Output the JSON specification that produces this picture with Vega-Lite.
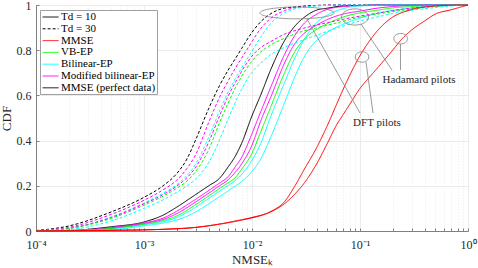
{
"$schema": "https://vega.github.io/schema/vega-lite/v6.json",
"width": 432, "height": 226,
"autosize": {"type": "none"},
"padding": {"left": 36, "top": 5, "right": 10, "bottom": 37},
"background": "white",
"config": {"view": {"stroke": null}, "font": "Liberation Serif"},
"layer": [
{
"data": {"values": [
{"series":"MMSE (perfect data)","pilot":"none","nmse":0.0001,"cdf":0},
{"series":"MMSE (perfect data)","pilot":"none","nmse":0.0002,"cdf":0.002},
{"series":"MMSE (perfect data)","pilot":"none","nmse":0.0005,"cdf":0.019},
{"series":"MMSE (perfect data)","pilot":"none","nmse":0.001,"cdf":0.040},
{"series":"MMSE (perfect data)","pilot":"none","nmse":0.0015,"cdf":0.070},
{"series":"MMSE (perfect data)","pilot":"none","nmse":0.002,"cdf":0.105},
{"series":"MMSE (perfect data)","pilot":"none","nmse":0.003,"cdf":0.161},
{"series":"MMSE (perfect data)","pilot":"none","nmse":0.004,"cdf":0.201},
{"series":"MMSE (perfect data)","pilot":"none","nmse":0.005,"cdf":0.233},
{"series":"MMSE (perfect data)","pilot":"none","nmse":0.006,"cdf":0.283},
{"series":"MMSE (perfect data)","pilot":"none","nmse":0.007,"cdf":0.331},
{"series":"MMSE (perfect data)","pilot":"none","nmse":0.008,"cdf":0.387},
{"series":"MMSE (perfect data)","pilot":"none","nmse":0.01,"cdf":0.510},
{"series":"MMSE (perfect data)","pilot":"none","nmse":0.012,"cdf":0.600},
{"series":"MMSE (perfect data)","pilot":"none","nmse":0.015,"cdf":0.717},
{"series":"MMSE (perfect data)","pilot":"none","nmse":0.02,"cdf":0.842},
{"series":"MMSE (perfect data)","pilot":"none","nmse":0.025,"cdf":0.907},
{"series":"MMSE (perfect data)","pilot":"none","nmse":0.03,"cdf":0.943},
{"series":"MMSE (perfect data)","pilot":"none","nmse":0.04,"cdf":0.978},
{"series":"MMSE (perfect data)","pilot":"none","nmse":0.05,"cdf":0.986},
{"series":"MMSE (perfect data)","pilot":"none","nmse":0.07,"cdf":0.996},
{"series":"MMSE (perfect data)","pilot":"none","nmse":0.1,"cdf":0.998},
{"series":"MMSE (perfect data)","pilot":"none","nmse":0.15,"cdf":1.0},
{"series":"MMSE (perfect data)","pilot":"none","nmse":1,"cdf":1.0},

{"series":"Modified bilinear-EP","pilot":"DFT","nmse":0.0001,"cdf":0},
{"series":"Modified bilinear-EP","pilot":"DFT","nmse":0.0002,"cdf":0.001},
{"series":"Modified bilinear-EP","pilot":"DFT","nmse":0.0005,"cdf":0.015},
{"series":"Modified bilinear-EP","pilot":"DFT","nmse":0.001,"cdf":0.036},
{"series":"Modified bilinear-EP","pilot":"DFT","nmse":0.0015,"cdf":0.057},
{"series":"Modified bilinear-EP","pilot":"DFT","nmse":0.002,"cdf":0.087},
{"series":"Modified bilinear-EP","pilot":"DFT","nmse":0.003,"cdf":0.140},
{"series":"Modified bilinear-EP","pilot":"DFT","nmse":0.004,"cdf":0.180},
{"series":"Modified bilinear-EP","pilot":"DFT","nmse":0.005,"cdf":0.212},
{"series":"Modified bilinear-EP","pilot":"DFT","nmse":0.006,"cdf":0.240},
{"series":"Modified bilinear-EP","pilot":"DFT","nmse":0.007,"cdf":0.284},
{"series":"Modified bilinear-EP","pilot":"DFT","nmse":0.008,"cdf":0.325},
{"series":"Modified bilinear-EP","pilot":"DFT","nmse":0.01,"cdf":0.431},
{"series":"Modified bilinear-EP","pilot":"DFT","nmse":0.012,"cdf":0.526},
{"series":"Modified bilinear-EP","pilot":"DFT","nmse":0.015,"cdf":0.639},
{"series":"Modified bilinear-EP","pilot":"DFT","nmse":0.02,"cdf":0.781},
{"series":"Modified bilinear-EP","pilot":"DFT","nmse":0.025,"cdf":0.866},
{"series":"Modified bilinear-EP","pilot":"DFT","nmse":0.03,"cdf":0.916},
{"series":"Modified bilinear-EP","pilot":"DFT","nmse":0.04,"cdf":0.960},
{"series":"Modified bilinear-EP","pilot":"DFT","nmse":0.05,"cdf":0.981},
{"series":"Modified bilinear-EP","pilot":"DFT","nmse":0.07,"cdf":0.993},
{"series":"Modified bilinear-EP","pilot":"DFT","nmse":0.1,"cdf":0.997},
{"series":"Modified bilinear-EP","pilot":"DFT","nmse":0.15,"cdf":1.0},
{"series":"Modified bilinear-EP","pilot":"DFT","nmse":1,"cdf":1.0},

{"series":"Bilinear-EP","pilot":"DFT","nmse":0.0001,"cdf":0},
{"series":"Bilinear-EP","pilot":"DFT","nmse":0.0005,"cdf":0.010},
{"series":"Bilinear-EP","pilot":"DFT","nmse":0.001,"cdf":0.028},
{"series":"Bilinear-EP","pilot":"DFT","nmse":0.0015,"cdf":0.041},
{"series":"Bilinear-EP","pilot":"DFT","nmse":0.002,"cdf":0.059},
{"series":"Bilinear-EP","pilot":"DFT","nmse":0.003,"cdf":0.105},
{"series":"Bilinear-EP","pilot":"DFT","nmse":0.004,"cdf":0.145},
{"series":"Bilinear-EP","pilot":"DFT","nmse":0.005,"cdf":0.176},
{"series":"Bilinear-EP","pilot":"DFT","nmse":0.006,"cdf":0.201},
{"series":"Bilinear-EP","pilot":"DFT","nmse":0.007,"cdf":0.223},
{"series":"Bilinear-EP","pilot":"DFT","nmse":0.008,"cdf":0.249},
{"series":"Bilinear-EP","pilot":"DFT","nmse":0.01,"cdf":0.313},
{"series":"Bilinear-EP","pilot":"DFT","nmse":0.012,"cdf":0.386},
{"series":"Bilinear-EP","pilot":"DFT","nmse":0.015,"cdf":0.510},
{"series":"Bilinear-EP","pilot":"DFT","nmse":0.02,"cdf":0.656},
{"series":"Bilinear-EP","pilot":"DFT","nmse":0.025,"cdf":0.767},
{"series":"Bilinear-EP","pilot":"DFT","nmse":0.03,"cdf":0.842},
{"series":"Bilinear-EP","pilot":"DFT","nmse":0.04,"cdf":0.924},
{"series":"Bilinear-EP","pilot":"DFT","nmse":0.05,"cdf":0.956},
{"series":"Bilinear-EP","pilot":"DFT","nmse":0.07,"cdf":0.984},
{"series":"Bilinear-EP","pilot":"DFT","nmse":0.1,"cdf":0.996},
{"series":"Bilinear-EP","pilot":"DFT","nmse":0.15,"cdf":0.998},
{"series":"Bilinear-EP","pilot":"DFT","nmse":0.2,"cdf":1.0},
{"series":"Bilinear-EP","pilot":"DFT","nmse":1,"cdf":1.0},

{"series":"Modified bilinear-EP","pilot":"Hadamard","nmse":0.0001,"cdf":0},
{"series":"Modified bilinear-EP","pilot":"Hadamard","nmse":0.0002,"cdf":0.001},
{"series":"Modified bilinear-EP","pilot":"Hadamard","nmse":0.0005,"cdf":0.0135},
{"series":"Modified bilinear-EP","pilot":"Hadamard","nmse":0.001,"cdf":0.033},
{"series":"Modified bilinear-EP","pilot":"Hadamard","nmse":0.0015,"cdf":0.051},
{"series":"Modified bilinear-EP","pilot":"Hadamard","nmse":0.002,"cdf":0.076},
{"series":"Modified bilinear-EP","pilot":"Hadamard","nmse":0.003,"cdf":0.128},
{"series":"Modified bilinear-EP","pilot":"Hadamard","nmse":0.004,"cdf":0.168},
{"series":"Modified bilinear-EP","pilot":"Hadamard","nmse":0.005,"cdf":0.200},
{"series":"Modified bilinear-EP","pilot":"Hadamard","nmse":0.006,"cdf":0.226},
{"series":"Modified bilinear-EP","pilot":"Hadamard","nmse":0.007,"cdf":0.260},
{"series":"Modified bilinear-EP","pilot":"Hadamard","nmse":0.008,"cdf":0.296},
{"series":"Modified bilinear-EP","pilot":"Hadamard","nmse":0.01,"cdf":0.380},
{"series":"Modified bilinear-EP","pilot":"Hadamard","nmse":0.012,"cdf":0.485},
{"series":"Modified bilinear-EP","pilot":"Hadamard","nmse":0.015,"cdf":0.595},
{"series":"Modified bilinear-EP","pilot":"Hadamard","nmse":0.02,"cdf":0.743},
{"series":"Modified bilinear-EP","pilot":"Hadamard","nmse":0.025,"cdf":0.830},
{"series":"Modified bilinear-EP","pilot":"Hadamard","nmse":0.03,"cdf":0.872},
{"series":"Modified bilinear-EP","pilot":"Hadamard","nmse":0.04,"cdf":0.912},
{"series":"Modified bilinear-EP","pilot":"Hadamard","nmse":0.05,"cdf":0.936},
{"series":"Modified bilinear-EP","pilot":"Hadamard","nmse":0.07,"cdf":0.960},
{"series":"Modified bilinear-EP","pilot":"Hadamard","nmse":0.1,"cdf":0.973},
{"series":"Modified bilinear-EP","pilot":"Hadamard","nmse":0.15,"cdf":0.987},
{"series":"Modified bilinear-EP","pilot":"Hadamard","nmse":0.2,"cdf":0.993},
{"series":"Modified bilinear-EP","pilot":"Hadamard","nmse":0.3,"cdf":0.998},
{"series":"Modified bilinear-EP","pilot":"Hadamard","nmse":0.5,"cdf":1.0},
{"series":"Modified bilinear-EP","pilot":"Hadamard","nmse":1,"cdf":1.0},

{"series":"VB-EP","pilot":"Hadamard","nmse":0.0001,"cdf":0},
{"series":"VB-EP","pilot":"Hadamard","nmse":0.0002,"cdf":0.0005},
{"series":"VB-EP","pilot":"Hadamard","nmse":0.0005,"cdf":0.012},
{"series":"VB-EP","pilot":"Hadamard","nmse":0.001,"cdf":0.030},
{"series":"VB-EP","pilot":"Hadamard","nmse":0.0015,"cdf":0.046},
{"series":"VB-EP","pilot":"Hadamard","nmse":0.002,"cdf":0.066},
{"series":"VB-EP","pilot":"Hadamard","nmse":0.003,"cdf":0.116},
{"series":"VB-EP","pilot":"Hadamard","nmse":0.004,"cdf":0.156},
{"series":"VB-EP","pilot":"Hadamard","nmse":0.005,"cdf":0.188},
{"series":"VB-EP","pilot":"Hadamard","nmse":0.006,"cdf":0.213},
{"series":"VB-EP","pilot":"Hadamard","nmse":0.007,"cdf":0.236},
{"series":"VB-EP","pilot":"Hadamard","nmse":0.008,"cdf":0.273},
{"series":"VB-EP","pilot":"Hadamard","nmse":0.01,"cdf":0.344},
{"series":"VB-EP","pilot":"Hadamard","nmse":0.012,"cdf":0.437},
{"series":"VB-EP","pilot":"Hadamard","nmse":0.015,"cdf":0.552},
{"series":"VB-EP","pilot":"Hadamard","nmse":0.02,"cdf":0.700},
{"series":"VB-EP","pilot":"Hadamard","nmse":0.025,"cdf":0.795},
{"series":"VB-EP","pilot":"Hadamard","nmse":0.03,"cdf":0.845},
{"series":"VB-EP","pilot":"Hadamard","nmse":0.04,"cdf":0.893},
{"series":"VB-EP","pilot":"Hadamard","nmse":0.05,"cdf":0.918},
{"series":"VB-EP","pilot":"Hadamard","nmse":0.07,"cdf":0.947},
{"series":"VB-EP","pilot":"Hadamard","nmse":0.1,"cdf":0.965},
{"series":"VB-EP","pilot":"Hadamard","nmse":0.15,"cdf":0.978},
{"series":"VB-EP","pilot":"Hadamard","nmse":0.2,"cdf":0.987},
{"series":"VB-EP","pilot":"Hadamard","nmse":0.3,"cdf":0.993},
{"series":"VB-EP","pilot":"Hadamard","nmse":0.5,"cdf":0.998},
{"series":"VB-EP","pilot":"Hadamard","nmse":1,"cdf":1.0},

{"series":"Bilinear-EP","pilot":"Hadamard","nmse":0.0001,"cdf":0},
{"series":"Bilinear-EP","pilot":"Hadamard","nmse":0.0005,"cdf":0.006},
{"series":"Bilinear-EP","pilot":"Hadamard","nmse":0.001,"cdf":0.023},
{"series":"Bilinear-EP","pilot":"Hadamard","nmse":0.0015,"cdf":0.035},
{"series":"Bilinear-EP","pilot":"Hadamard","nmse":0.002,"cdf":0.048},
{"series":"Bilinear-EP","pilot":"Hadamard","nmse":0.003,"cdf":0.084},
{"series":"Bilinear-EP","pilot":"Hadamard","nmse":0.004,"cdf":0.121},
{"series":"Bilinear-EP","pilot":"Hadamard","nmse":0.005,"cdf":0.152},
{"series":"Bilinear-EP","pilot":"Hadamard","nmse":0.006,"cdf":0.177},
{"series":"Bilinear-EP","pilot":"Hadamard","nmse":0.007,"cdf":0.199},
{"series":"Bilinear-EP","pilot":"Hadamard","nmse":0.008,"cdf":0.218},
{"series":"Bilinear-EP","pilot":"Hadamard","nmse":0.01,"cdf":0.264},
{"series":"Bilinear-EP","pilot":"Hadamard","nmse":0.012,"cdf":0.317},
{"series":"Bilinear-EP","pilot":"Hadamard","nmse":0.015,"cdf":0.418},
{"series":"Bilinear-EP","pilot":"Hadamard","nmse":0.02,"cdf":0.567},
{"series":"Bilinear-EP","pilot":"Hadamard","nmse":0.025,"cdf":0.684},
{"series":"Bilinear-EP","pilot":"Hadamard","nmse":0.03,"cdf":0.765},
{"series":"Bilinear-EP","pilot":"Hadamard","nmse":0.04,"cdf":0.845},
{"series":"Bilinear-EP","pilot":"Hadamard","nmse":0.05,"cdf":0.880},
{"series":"Bilinear-EP","pilot":"Hadamard","nmse":0.07,"cdf":0.915},
{"series":"Bilinear-EP","pilot":"Hadamard","nmse":0.1,"cdf":0.942},
{"series":"Bilinear-EP","pilot":"Hadamard","nmse":0.15,"cdf":0.965},
{"series":"Bilinear-EP","pilot":"Hadamard","nmse":0.2,"cdf":0.976},
{"series":"Bilinear-EP","pilot":"Hadamard","nmse":0.3,"cdf":0.987},
{"series":"Bilinear-EP","pilot":"Hadamard","nmse":0.5,"cdf":0.996},
{"series":"Bilinear-EP","pilot":"Hadamard","nmse":1,"cdf":1.0},

{"series":"MMSE (perfect data), Td = 30","pilot":"none","nmse":0.0001,"cdf":0.002},
{"series":"MMSE (perfect data), Td = 30","pilot":"none","nmse":0.0002,"cdf":0.022},
{"series":"MMSE (perfect data), Td = 30","pilot":"none","nmse":0.0005,"cdf":0.085},
{"series":"MMSE (perfect data), Td = 30","pilot":"none","nmse":0.001,"cdf":0.149},
{"series":"MMSE (perfect data), Td = 30","pilot":"none","nmse":0.0015,"cdf":0.200},
{"series":"MMSE (perfect data), Td = 30","pilot":"none","nmse":0.002,"cdf":0.253},
{"series":"MMSE (perfect data), Td = 30","pilot":"none","nmse":0.0025,"cdf":0.319},
{"series":"MMSE (perfect data), Td = 30","pilot":"none","nmse":0.003,"cdf":0.402},
{"series":"MMSE (perfect data), Td = 30","pilot":"none","nmse":0.004,"cdf":0.545},
{"series":"MMSE (perfect data), Td = 30","pilot":"none","nmse":0.005,"cdf":0.643},
{"series":"MMSE (perfect data), Td = 30","pilot":"none","nmse":0.006,"cdf":0.711},
{"series":"MMSE (perfect data), Td = 30","pilot":"none","nmse":0.007,"cdf":0.762},
{"series":"MMSE (perfect data), Td = 30","pilot":"none","nmse":0.008,"cdf":0.807},
{"series":"MMSE (perfect data), Td = 30","pilot":"none","nmse":0.01,"cdf":0.879},
{"series":"MMSE (perfect data), Td = 30","pilot":"none","nmse":0.012,"cdf":0.925},
{"series":"MMSE (perfect data), Td = 30","pilot":"none","nmse":0.015,"cdf":0.962},
{"series":"MMSE (perfect data), Td = 30","pilot":"none","nmse":0.02,"cdf":0.986},
{"series":"MMSE (perfect data), Td = 30","pilot":"none","nmse":0.025,"cdf":0.991},
{"series":"MMSE (perfect data), Td = 30","pilot":"none","nmse":0.03,"cdf":0.995},
{"series":"MMSE (perfect data), Td = 30","pilot":"none","nmse":0.04,"cdf":0.998},
{"series":"MMSE (perfect data), Td = 30","pilot":"none","nmse":0.07,"cdf":1.0},
{"series":"MMSE (perfect data), Td = 30","pilot":"none","nmse":1,"cdf":1.0},

{"series":"Modified bilinear-EP, Td = 30","pilot":"DFT","nmse":0.0001,"cdf":0.002},
{"series":"Modified bilinear-EP, Td = 30","pilot":"DFT","nmse":0.0002,"cdf":0.016},
{"series":"Modified bilinear-EP, Td = 30","pilot":"DFT","nmse":0.0005,"cdf":0.074},
{"series":"Modified bilinear-EP, Td = 30","pilot":"DFT","nmse":0.001,"cdf":0.136},
{"series":"Modified bilinear-EP, Td = 30","pilot":"DFT","nmse":0.0015,"cdf":0.182},
{"series":"Modified bilinear-EP, Td = 30","pilot":"DFT","nmse":0.002,"cdf":0.224},
{"series":"Modified bilinear-EP, Td = 30","pilot":"DFT","nmse":0.0025,"cdf":0.277},
{"series":"Modified bilinear-EP, Td = 30","pilot":"DFT","nmse":0.003,"cdf":0.337},
{"series":"Modified bilinear-EP, Td = 30","pilot":"DFT","nmse":0.004,"cdf":0.484},
{"series":"Modified bilinear-EP, Td = 30","pilot":"DFT","nmse":0.005,"cdf":0.591},
{"series":"Modified bilinear-EP, Td = 30","pilot":"DFT","nmse":0.006,"cdf":0.663},
{"series":"Modified bilinear-EP, Td = 30","pilot":"DFT","nmse":0.007,"cdf":0.720},
{"series":"Modified bilinear-EP, Td = 30","pilot":"DFT","nmse":0.008,"cdf":0.764},
{"series":"Modified bilinear-EP, Td = 30","pilot":"DFT","nmse":0.01,"cdf":0.838},
{"series":"Modified bilinear-EP, Td = 30","pilot":"DFT","nmse":0.012,"cdf":0.895},
{"series":"Modified bilinear-EP, Td = 30","pilot":"DFT","nmse":0.015,"cdf":0.942},
{"series":"Modified bilinear-EP, Td = 30","pilot":"DFT","nmse":0.02,"cdf":0.975},
{"series":"Modified bilinear-EP, Td = 30","pilot":"DFT","nmse":0.025,"cdf":0.988},
{"series":"Modified bilinear-EP, Td = 30","pilot":"DFT","nmse":0.03,"cdf":0.992},
{"series":"Modified bilinear-EP, Td = 30","pilot":"DFT","nmse":0.04,"cdf":0.998},
{"series":"Modified bilinear-EP, Td = 30","pilot":"DFT","nmse":0.07,"cdf":1.0},
{"series":"Modified bilinear-EP, Td = 30","pilot":"DFT","nmse":1,"cdf":1.0},

{"series":"Bilinear-EP, Td = 30","pilot":"DFT","nmse":0.0001,"cdf":0.001},
{"series":"Bilinear-EP, Td = 30","pilot":"DFT","nmse":0.0002,"cdf":0.011},
{"series":"Bilinear-EP, Td = 30","pilot":"DFT","nmse":0.0005,"cdf":0.063},
{"series":"Bilinear-EP, Td = 30","pilot":"DFT","nmse":0.001,"cdf":0.124},
{"series":"Bilinear-EP, Td = 30","pilot":"DFT","nmse":0.0015,"cdf":0.167},
{"series":"Bilinear-EP, Td = 30","pilot":"DFT","nmse":0.002,"cdf":0.204},
{"series":"Bilinear-EP, Td = 30","pilot":"DFT","nmse":0.0025,"cdf":0.246},
{"series":"Bilinear-EP, Td = 30","pilot":"DFT","nmse":0.003,"cdf":0.295},
{"series":"Bilinear-EP, Td = 30","pilot":"DFT","nmse":0.004,"cdf":0.418},
{"series":"Bilinear-EP, Td = 30","pilot":"DFT","nmse":0.005,"cdf":0.530},
{"series":"Bilinear-EP, Td = 30","pilot":"DFT","nmse":0.006,"cdf":0.614},
{"series":"Bilinear-EP, Td = 30","pilot":"DFT","nmse":0.007,"cdf":0.673},
{"series":"Bilinear-EP, Td = 30","pilot":"DFT","nmse":0.008,"cdf":0.721},
{"series":"Bilinear-EP, Td = 30","pilot":"DFT","nmse":0.01,"cdf":0.796},
{"series":"Bilinear-EP, Td = 30","pilot":"DFT","nmse":0.012,"cdf":0.857},
{"series":"Bilinear-EP, Td = 30","pilot":"DFT","nmse":0.015,"cdf":0.920},
{"series":"Bilinear-EP, Td = 30","pilot":"DFT","nmse":0.02,"cdf":0.965},
{"series":"Bilinear-EP, Td = 30","pilot":"DFT","nmse":0.025,"cdf":0.983},
{"series":"Bilinear-EP, Td = 30","pilot":"DFT","nmse":0.03,"cdf":0.990},
{"series":"Bilinear-EP, Td = 30","pilot":"DFT","nmse":0.04,"cdf":0.996},
{"series":"Bilinear-EP, Td = 30","pilot":"DFT","nmse":0.05,"cdf":0.998},
{"series":"Bilinear-EP, Td = 30","pilot":"DFT","nmse":0.07,"cdf":1.0},
{"series":"Bilinear-EP, Td = 30","pilot":"DFT","nmse":1,"cdf":1.0},

{"series":"Modified bilinear-EP, Td = 30","pilot":"Hadamard","nmse":0.0001,"cdf":0.001},
{"series":"Modified bilinear-EP, Td = 30","pilot":"Hadamard","nmse":0.0002,"cdf":0.012},
{"series":"Modified bilinear-EP, Td = 30","pilot":"Hadamard","nmse":0.0005,"cdf":0.060},
{"series":"Modified bilinear-EP, Td = 30","pilot":"Hadamard","nmse":0.001,"cdf":0.120},
{"series":"Modified bilinear-EP, Td = 30","pilot":"Hadamard","nmse":0.0015,"cdf":0.161},
{"series":"Modified bilinear-EP, Td = 30","pilot":"Hadamard","nmse":0.002,"cdf":0.198},
{"series":"Modified bilinear-EP, Td = 30","pilot":"Hadamard","nmse":0.0025,"cdf":0.236},
{"series":"Modified bilinear-EP, Td = 30","pilot":"Hadamard","nmse":0.003,"cdf":0.281},
{"series":"Modified bilinear-EP, Td = 30","pilot":"Hadamard","nmse":0.004,"cdf":0.396},
{"series":"Modified bilinear-EP, Td = 30","pilot":"Hadamard","nmse":0.005,"cdf":0.509},
{"series":"Modified bilinear-EP, Td = 30","pilot":"Hadamard","nmse":0.006,"cdf":0.596},
{"series":"Modified bilinear-EP, Td = 30","pilot":"Hadamard","nmse":0.007,"cdf":0.657},
{"series":"Modified bilinear-EP, Td = 30","pilot":"Hadamard","nmse":0.008,"cdf":0.706},
{"series":"Modified bilinear-EP, Td = 30","pilot":"Hadamard","nmse":0.01,"cdf":0.774},
{"series":"Modified bilinear-EP, Td = 30","pilot":"Hadamard","nmse":0.012,"cdf":0.811},
{"series":"Modified bilinear-EP, Td = 30","pilot":"Hadamard","nmse":0.015,"cdf":0.839},
{"series":"Modified bilinear-EP, Td = 30","pilot":"Hadamard","nmse":0.02,"cdf":0.871},
{"series":"Modified bilinear-EP, Td = 30","pilot":"Hadamard","nmse":0.025,"cdf":0.887},
{"series":"Modified bilinear-EP, Td = 30","pilot":"Hadamard","nmse":0.03,"cdf":0.897},
{"series":"Modified bilinear-EP, Td = 30","pilot":"Hadamard","nmse":0.04,"cdf":0.912},
{"series":"Modified bilinear-EP, Td = 30","pilot":"Hadamard","nmse":0.05,"cdf":0.922},
{"series":"Modified bilinear-EP, Td = 30","pilot":"Hadamard","nmse":0.07,"cdf":0.937},
{"series":"Modified bilinear-EP, Td = 30","pilot":"Hadamard","nmse":0.1,"cdf":0.951},
{"series":"Modified bilinear-EP, Td = 30","pilot":"Hadamard","nmse":0.15,"cdf":0.965},
{"series":"Modified bilinear-EP, Td = 30","pilot":"Hadamard","nmse":0.2,"cdf":0.975},
{"series":"Modified bilinear-EP, Td = 30","pilot":"Hadamard","nmse":0.3,"cdf":0.986},
{"series":"Modified bilinear-EP, Td = 30","pilot":"Hadamard","nmse":0.5,"cdf":0.995},
{"series":"Modified bilinear-EP, Td = 30","pilot":"Hadamard","nmse":0.7,"cdf":0.998},
{"series":"Modified bilinear-EP, Td = 30","pilot":"Hadamard","nmse":1,"cdf":1.0},

{"series":"VB-EP, Td = 30","pilot":"Hadamard","nmse":0.0001,"cdf":0.001},
{"series":"VB-EP, Td = 30","pilot":"Hadamard","nmse":0.0002,"cdf":0.011},
{"series":"VB-EP, Td = 30","pilot":"Hadamard","nmse":0.0005,"cdf":0.056},
{"series":"VB-EP, Td = 30","pilot":"Hadamard","nmse":0.001,"cdf":0.114},
{"series":"VB-EP, Td = 30","pilot":"Hadamard","nmse":0.0015,"cdf":0.154},
{"series":"VB-EP, Td = 30","pilot":"Hadamard","nmse":0.002,"cdf":0.189},
{"series":"VB-EP, Td = 30","pilot":"Hadamard","nmse":0.0025,"cdf":0.221},
{"series":"VB-EP, Td = 30","pilot":"Hadamard","nmse":0.003,"cdf":0.263},
{"series":"VB-EP, Td = 30","pilot":"Hadamard","nmse":0.004,"cdf":0.363},
{"series":"VB-EP, Td = 30","pilot":"Hadamard","nmse":0.005,"cdf":0.479},
{"series":"VB-EP, Td = 30","pilot":"Hadamard","nmse":0.006,"cdf":0.565},
{"series":"VB-EP, Td = 30","pilot":"Hadamard","nmse":0.007,"cdf":0.633},
{"series":"VB-EP, Td = 30","pilot":"Hadamard","nmse":0.008,"cdf":0.683},
{"series":"VB-EP, Td = 30","pilot":"Hadamard","nmse":0.01,"cdf":0.752},
{"series":"VB-EP, Td = 30","pilot":"Hadamard","nmse":0.012,"cdf":0.792},
{"series":"VB-EP, Td = 30","pilot":"Hadamard","nmse":0.015,"cdf":0.824},
{"series":"VB-EP, Td = 30","pilot":"Hadamard","nmse":0.02,"cdf":0.853},
{"series":"VB-EP, Td = 30","pilot":"Hadamard","nmse":0.025,"cdf":0.872},
{"series":"VB-EP, Td = 30","pilot":"Hadamard","nmse":0.03,"cdf":0.885},
{"series":"VB-EP, Td = 30","pilot":"Hadamard","nmse":0.04,"cdf":0.899},
{"series":"VB-EP, Td = 30","pilot":"Hadamard","nmse":0.05,"cdf":0.911},
{"series":"VB-EP, Td = 30","pilot":"Hadamard","nmse":0.07,"cdf":0.928},
{"series":"VB-EP, Td = 30","pilot":"Hadamard","nmse":0.1,"cdf":0.947},
{"series":"VB-EP, Td = 30","pilot":"Hadamard","nmse":0.15,"cdf":0.961},
{"series":"VB-EP, Td = 30","pilot":"Hadamard","nmse":0.2,"cdf":0.971},
{"series":"VB-EP, Td = 30","pilot":"Hadamard","nmse":0.3,"cdf":0.982},
{"series":"VB-EP, Td = 30","pilot":"Hadamard","nmse":0.5,"cdf":0.993},
{"series":"VB-EP, Td = 30","pilot":"Hadamard","nmse":0.7,"cdf":0.998},
{"series":"VB-EP, Td = 30","pilot":"Hadamard","nmse":1,"cdf":1.0},

{"series":"Bilinear-EP, Td = 30","pilot":"Hadamard","nmse":0.0001,"cdf":0.001},
{"series":"Bilinear-EP, Td = 30","pilot":"Hadamard","nmse":0.0002,"cdf":0.006},
{"series":"Bilinear-EP, Td = 30","pilot":"Hadamard","nmse":0.0005,"cdf":0.045},
{"series":"Bilinear-EP, Td = 30","pilot":"Hadamard","nmse":0.001,"cdf":0.100},
{"series":"Bilinear-EP, Td = 30","pilot":"Hadamard","nmse":0.0015,"cdf":0.138},
{"series":"Bilinear-EP, Td = 30","pilot":"Hadamard","nmse":0.002,"cdf":0.171},
{"series":"Bilinear-EP, Td = 30","pilot":"Hadamard","nmse":0.0025,"cdf":0.200},
{"series":"Bilinear-EP, Td = 30","pilot":"Hadamard","nmse":0.003,"cdf":0.229},
{"series":"Bilinear-EP, Td = 30","pilot":"Hadamard","nmse":0.004,"cdf":0.305},
{"series":"Bilinear-EP, Td = 30","pilot":"Hadamard","nmse":0.005,"cdf":0.402},
{"series":"Bilinear-EP, Td = 30","pilot":"Hadamard","nmse":0.006,"cdf":0.494},
{"series":"Bilinear-EP, Td = 30","pilot":"Hadamard","nmse":0.007,"cdf":0.569},
{"series":"Bilinear-EP, Td = 30","pilot":"Hadamard","nmse":0.008,"cdf":0.627},
{"series":"Bilinear-EP, Td = 30","pilot":"Hadamard","nmse":0.01,"cdf":0.702},
{"series":"Bilinear-EP, Td = 30","pilot":"Hadamard","nmse":0.012,"cdf":0.742},
{"series":"Bilinear-EP, Td = 30","pilot":"Hadamard","nmse":0.015,"cdf":0.781},
{"series":"Bilinear-EP, Td = 30","pilot":"Hadamard","nmse":0.02,"cdf":0.813},
{"series":"Bilinear-EP, Td = 30","pilot":"Hadamard","nmse":0.025,"cdf":0.832},
{"series":"Bilinear-EP, Td = 30","pilot":"Hadamard","nmse":0.03,"cdf":0.846},
{"series":"Bilinear-EP, Td = 30","pilot":"Hadamard","nmse":0.04,"cdf":0.867},
{"series":"Bilinear-EP, Td = 30","pilot":"Hadamard","nmse":0.05,"cdf":0.884},
{"series":"Bilinear-EP, Td = 30","pilot":"Hadamard","nmse":0.07,"cdf":0.907},
{"series":"Bilinear-EP, Td = 30","pilot":"Hadamard","nmse":0.1,"cdf":0.929},
{"series":"Bilinear-EP, Td = 30","pilot":"Hadamard","nmse":0.15,"cdf":0.949},
{"series":"Bilinear-EP, Td = 30","pilot":"Hadamard","nmse":0.2,"cdf":0.962},
{"series":"Bilinear-EP, Td = 30","pilot":"Hadamard","nmse":0.3,"cdf":0.976},
{"series":"Bilinear-EP, Td = 30","pilot":"Hadamard","nmse":0.5,"cdf":0.989},
{"series":"Bilinear-EP, Td = 30","pilot":"Hadamard","nmse":0.7,"cdf":0.996},
{"series":"Bilinear-EP, Td = 30","pilot":"Hadamard","nmse":1,"cdf":1.0},

{"series":"MMSE","pilot":"DFT","nmse":0.0001,"cdf":0},
{"series":"MMSE","pilot":"DFT","nmse":0.0005,"cdf":0.003},
{"series":"MMSE","pilot":"DFT","nmse":0.0015,"cdf":0.0075},
{"series":"MMSE","pilot":"DFT","nmse":0.003,"cdf":0.016},
{"series":"MMSE","pilot":"DFT","nmse":0.005,"cdf":0.031},
{"series":"MMSE","pilot":"DFT","nmse":0.008,"cdf":0.050},
{"series":"MMSE","pilot":"DFT","nmse":0.01,"cdf":0.060},
{"series":"MMSE","pilot":"DFT","nmse":0.015,"cdf":0.087},
{"series":"MMSE","pilot":"DFT","nmse":0.02,"cdf":0.130},
{"series":"MMSE","pilot":"DFT","nmse":0.025,"cdf":0.200},
{"series":"MMSE","pilot":"DFT","nmse":0.03,"cdf":0.267},
{"series":"MMSE","pilot":"DFT","nmse":0.04,"cdf":0.372},
{"series":"MMSE","pilot":"DFT","nmse":0.05,"cdf":0.468},
{"series":"MMSE","pilot":"DFT","nmse":0.06,"cdf":0.555},
{"series":"MMSE","pilot":"DFT","nmse":0.07,"cdf":0.628},
{"series":"MMSE","pilot":"DFT","nmse":0.08,"cdf":0.687},
{"series":"MMSE","pilot":"DFT","nmse":0.1,"cdf":0.776},
{"series":"MMSE","pilot":"DFT","nmse":0.12,"cdf":0.835},
{"series":"MMSE","pilot":"DFT","nmse":0.15,"cdf":0.894},
{"series":"MMSE","pilot":"DFT","nmse":0.2,"cdf":0.946},
{"series":"MMSE","pilot":"DFT","nmse":0.25,"cdf":0.968},
{"series":"MMSE","pilot":"DFT","nmse":0.3,"cdf":0.980},
{"series":"MMSE","pilot":"DFT","nmse":0.5,"cdf":0.996},
{"series":"MMSE","pilot":"DFT","nmse":0.7,"cdf":0.999},
{"series":"MMSE","pilot":"DFT","nmse":1,"cdf":1.0},

{"series":"MMSE","pilot":"Hadamard","nmse":0.0001,"cdf":0},
{"series":"MMSE","pilot":"Hadamard","nmse":0.0005,"cdf":0.003},
{"series":"MMSE","pilot":"Hadamard","nmse":0.0015,"cdf":0.0075},
{"series":"MMSE","pilot":"Hadamard","nmse":0.003,"cdf":0.016},
{"series":"MMSE","pilot":"Hadamard","nmse":0.005,"cdf":0.030},
{"series":"MMSE","pilot":"Hadamard","nmse":0.008,"cdf":0.048},
{"series":"MMSE","pilot":"Hadamard","nmse":0.01,"cdf":0.058},
{"series":"MMSE","pilot":"Hadamard","nmse":0.015,"cdf":0.085},
{"series":"MMSE","pilot":"Hadamard","nmse":0.02,"cdf":0.121},
{"series":"MMSE","pilot":"Hadamard","nmse":0.025,"cdf":0.164},
{"series":"MMSE","pilot":"Hadamard","nmse":0.03,"cdf":0.208},
{"series":"MMSE","pilot":"Hadamard","nmse":0.04,"cdf":0.300},
{"series":"MMSE","pilot":"Hadamard","nmse":0.05,"cdf":0.389},
{"series":"MMSE","pilot":"Hadamard","nmse":0.06,"cdf":0.465},
{"series":"MMSE","pilot":"Hadamard","nmse":0.07,"cdf":0.516},
{"series":"MMSE","pilot":"Hadamard","nmse":0.08,"cdf":0.559},
{"series":"MMSE","pilot":"Hadamard","nmse":0.1,"cdf":0.631},
{"series":"MMSE","pilot":"Hadamard","nmse":0.12,"cdf":0.676},
{"series":"MMSE","pilot":"Hadamard","nmse":0.15,"cdf":0.729},
{"series":"MMSE","pilot":"Hadamard","nmse":0.2,"cdf":0.799},
{"series":"MMSE","pilot":"Hadamard","nmse":0.25,"cdf":0.855},
{"series":"MMSE","pilot":"Hadamard","nmse":0.3,"cdf":0.889},
{"series":"MMSE","pilot":"Hadamard","nmse":0.4,"cdf":0.931},
{"series":"MMSE","pilot":"Hadamard","nmse":0.5,"cdf":0.960},
{"series":"MMSE","pilot":"Hadamard","nmse":0.7,"cdf":0.979},
{"series":"MMSE","pilot":"Hadamard","nmse":1,"cdf":1.0}
]},
"mark": {"type": "line", "strokeWidth": 1, "interpolate": "monotone"},
"encoding": {
"x": {"field": "nmse", "type": "quantitative",
 "scale": {"type": "log", "domain": [0.0001, 1], "nice": false},
 "axis": {"title": "NMSEₖ",
  "values": [0.0001,0.0002,0.0003,0.0004,0.0005,0.0006,0.0007,0.0008,0.0009,0.001,0.002,0.003,0.004,0.005,0.006,0.007,0.008,0.009,0.01,0.02,0.03,0.04,0.05,0.06,0.07,0.08,0.09,0.1,0.2,0.3,0.4,0.5,0.6,0.7,0.8,0.9,1],
  "labelExpr": "datum.value == 0.0001 ? '10⁻⁴' : datum.value == 0.001 ? '10⁻³' : datum.value == 0.01 ? '10⁻²' : datum.value == 0.1 ? '10⁻¹' : datum.value == 1 ? '10⁰' : ''",
  "labelOverlap": false, "labelFlush": false,
  "labelFont": "Liberation Serif", "labelFontSize": 12, "labelColor": "#262626", "labelPadding": 11,
  "titleFont": "Liberation Serif", "titleFontSize": 13, "titleFontWeight": "normal", "titleColor": "#262626", "titlePadding": 3,
  "domainColor": "#808080", "tickColor": "#808080", "tickSize": -3,
  "grid": true, "gridColor": "#ebebeb",
  "gridDash": {"condition": {"test": "datum.value == 0.0001 || datum.value == 0.001 || datum.value == 0.01 || datum.value == 0.1 || datum.value == 1", "value": []}, "value": [1, 2]}
 }},
"y": {"field": "cdf", "type": "quantitative",
 "scale": {"domain": [0, 1], "nice": false},
 "axis": {"title": "CDF", "values": [0, 0.2, 0.4, 0.6, 0.8, 1], "format": "~g",
  "labelFont": "Liberation Serif", "labelFontSize": 12, "labelColor": "#262626", "labelPadding": 8,
  "titleFont": "Liberation Serif", "titleFontSize": 13, "titleFontWeight": "normal", "titleColor": "#262626", "titlePadding": 3,
  "domainColor": "#808080", "tickColor": "#808080", "tickSize": -3,
  "grid": true, "gridColor": "#ebebeb"}},
"color": {"field": "series", "type": "nominal",
 "scale": {"domain": ["Td = 10","Td = 30","MMSE","VB-EP","Bilinear-EP","Modified bilinear-EP","MMSE (perfect data)","VB-EP, Td = 30","Bilinear-EP, Td = 30","Modified bilinear-EP, Td = 30","MMSE (perfect data), Td = 30"],
  "range": ["#000000","#000000","#ff0000","#00ff00","#00ffff","#ff00ff","#000000","#00ff00","#00ffff","#ff00ff","#000000"]},
 "legend": {"values": ["Td = 10","Td = 30","MMSE","VB-EP","Bilinear-EP","Modified bilinear-EP","MMSE (perfect data)"],
  "title": null, "orient": "none", "legendX": 4, "legendY": 5,
  "symbolType": "M-0.8,0H2.1", "symbolSize": 121, "symbolStrokeWidth": 1,
  "labelFont": "Liberation Serif", "labelFontSize": 11, "labelColor": "#000000", "labelOffset": 8,
  "strokeColor": "#a0a0a0", "fillColor": "white", "padding": 1, "rowPadding": 0.8}},
"strokeDash": {"field": "series", "type": "nominal",
 "scale": {"domain": ["Td = 10","Td = 30","MMSE","VB-EP","Bilinear-EP","Modified bilinear-EP","MMSE (perfect data)","VB-EP, Td = 30","Bilinear-EP, Td = 30","Modified bilinear-EP, Td = 30","MMSE (perfect data), Td = 30"],
  "range": [[1,0],[3,2],[1,0],[1,0],[1,0],[1,0],[1,0],[3,2],[3,2],[3,2],[3,2]]},
 "legend": {"values": ["Td = 10","Td = 30","MMSE","VB-EP","Bilinear-EP","Modified bilinear-EP","MMSE (perfect data)"],
  "title": null, "orient": "none", "legendX": 4, "legendY": 5,
  "symbolType": "M-0.8,0H2.1", "symbolSize": 121, "symbolStrokeWidth": 1,
  "labelFont": "Liberation Serif", "labelFontSize": 11, "labelColor": "#000000", "labelOffset": 8,
  "strokeColor": "#a0a0a0", "fillColor": "white", "padding": 1, "rowPadding": 0.8}},
"detail": {"field": "pilot", "type": "nominal"}
}
},
{
"data": {"values": [
 {"nmse": 0.0323, "cdf": 0.938, "nmse2": 0.1, "cdf2": 0.522},
 {"nmse": 0.1136, "cdf": 0.748, "nmse2": 0.132, "cdf2": 0.522},
 {"nmse": 0.1022, "cdf": 0.916, "nmse2": 0.198, "cdf2": 0.712},
 {"nmse": 0.2371, "cdf": 0.827, "nmse2": 0.2371, "cdf2": 0.712}
]},
"mark": {"type": "rule", "color": "#808080", "strokeWidth": 0.8},
"encoding": {"x": {"field": "nmse", "type": "quantitative"}, "y": {"field": "cdf", "type": "quantitative"}, "x2": {"field": "nmse2"}, "y2": {"field": "cdf2"}}
},
{
"data": {"values": [{"nmse": 0.0261, "cdf": 0.965}]},
"mark": {"type": "point", "shape": "M-1,0A1,0.16 0 1,0 1,0A1,0.16 0 1,0 -1,0Z", "size": 5476, "filled": false, "stroke": "#808080", "strokeWidth": 0.8, "opacity": 1},
"encoding": {"x": {"field": "nmse", "type": "quantitative"}, "y": {"field": "cdf", "type": "quantitative"}}
},
{
"data": {"values": [{"nmse": 0.0899, "cdf": 0.947}]},
"mark": {"type": "point", "shape": "M-1,0A1,0.6 0 1,0 1,0A1,0.6 0 1,0 -1,0Z", "size": 729, "filled": false, "stroke": "#808080", "strokeWidth": 0.8, "opacity": 1},
"encoding": {"x": {"field": "nmse", "type": "quantitative"}, "y": {"field": "cdf", "type": "quantitative"}}
},
{
"data": {"values": [{"nmse": 0.1044, "cdf": 0.770}, {"nmse": 0.2381, "cdf": 0.851}]},
"mark": {"type": "point", "shape": "M-1,0A1,0.77 0 1,0 1,0A1,0.77 0 1,0 -1,0Z", "size": 185, "filled": false, "stroke": "#808080", "strokeWidth": 0.8, "opacity": 1},
"encoding": {"x": {"field": "nmse", "type": "quantitative"}, "y": {"field": "cdf", "type": "quantitative"}}
},
{
"data": {"values": [{"nmse": 0.1437, "cdf": 0.478, "label": "DFT pilots"}, {"nmse": 0.3518, "cdf": 0.668, "label": "Hadamard pilots"}]},
"mark": {"type": "text", "font": "Liberation Serif", "fontSize": 11, "color": "#262626", "align": "center", "baseline": "middle"},
"encoding": {"x": {"field": "nmse", "type": "quantitative"}, "y": {"field": "cdf", "type": "quantitative"}, "text": {"field": "label"}}
}
]
}
